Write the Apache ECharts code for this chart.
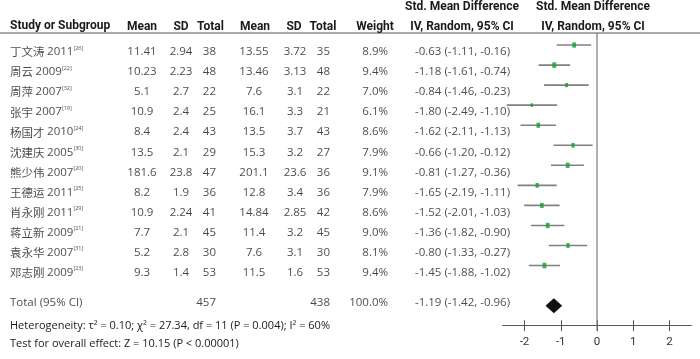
<!DOCTYPE html>
<html><head><meta charset="utf-8">
<script src="https://cdn.jsdelivr.net/npm/echarts@6/dist/echarts.min.js"></script>
<style>html,body{margin:0;padding:0;background:#fff}#c{width:700px;height:359px}</style>
</head><body><div id="c"></div>
<script>
// ---- data ----
const studies = ['丁文涛','周云','周萍','张宇','杨国才','沈建庆','熊少伟','王德运','肖永刚','蒋立新','袁永华','邓志刚'];
const years = [2011,2009,2007,2007,2010,2005,2007,2011,2011,2009,2007,2009];
const refs = [26,22,32,19,24,30,20,25,29,21,31,23];
const expMean = [11.41,10.23,5.1,10.9,8.4,13.5,181.6,8.2,10.9,7.7,5.2,9.3];
const expSD = [2.94,2.23,2.7,2.4,2.4,2.1,23.8,1.9,2.24,2.1,2.8,1.4];
const expTotal = [38,48,22,25,43,29,47,36,41,45,30,53];
const ctlMean = [13.55,13.46,7.6,16.1,13.5,15.3,201.1,12.8,14.84,11.4,7.6,11.5];
const ctlSD = [3.72,3.13,3.1,3.3,3.7,3.2,23.6,3.4,2.85,3.2,3.1,1.6];
const ctlTotal = [35,48,22,21,43,27,36,36,42,45,30,53];
const weights = [8.9,9.4,7.0,6.1,8.6,7.9,9.1,7.9,8.6,9.0,8.1,9.4];
const smd = [-0.63,-1.18,-0.84,-1.80,-1.62,-0.66,-0.81,-1.65,-1.52,-1.36,-0.80,-1.45];
const ciLow = [-1.11,-1.61,-1.46,-2.49,-2.11,-1.20,-1.27,-2.19,-2.01,-1.82,-1.33,-1.88];
const ciHigh = [-0.16,-0.74,-0.23,-1.10,-1.13,-0.12,-0.36,-1.11,-1.03,-0.90,-0.27,-1.02];
const totalExp = 457, totalCtl = 438, totalWeight = 100.0;
const pooled = [-1.19,-1.42,-0.96]; // est, low, high
const axisTicks = [-2,-1,0,1,2];
const nullEffect = 0;
const headerCols = ['Mean','SD','Total','Mean','SD','Total'];
const heteroText = 'Heterogeneity: τ² = 0.10; χ² = 27.34, df = 11 (P = 0.004); I² = 60%';
const overallText = 'Test for overall effect: Z = 10.15 (P < 0.00001)';

// ---- layout ----
const W = 700, H = 359;
const ROW0 = 52, ROWH = 20.05;     // table text rows
const BODY = "'Open Sans', 'Liberation Sans', sans-serif";
const CJK = "'Noto Sans CJK SC', sans-serif";
const HEAD = "'Liberation Sans Narrow', 'Arial Narrow', 'Roboto', sans-serif";
const FS = 11.5;
const TXT = '#1a1a1a';
const TOTAL_ROW = 12.5;
const Y_MIN = -0.6, Y_MAX = 14;
const PLOT = { left: 502.75, right: 8.75, top: 33, bottom: 33.3 };

const fmt2 = v => v.toFixed(2);
const ciText = (e,l,h) => `${fmt2(e)} (${fmt2(l)}, ${fmt2(h)})`;

function textSeries(name, x, align, values, rich) {
  return {
    type: 'scatter', name, xAxisIndex: 0, yAxisIndex: 0, symbolSize: 0, silent: true,
    data: values.map((v, i) => ({ value: [x, v.row != null ? v.row : i], txt: v.t != null ? v.t : v })),
    label: {
      show: true, position: [0, 0], align, verticalAlign: 'middle',
      fontFamily: BODY, fontSize: FS, color: TXT,
      formatter: p => p.data.txt, rich: rich || {}
    }
  };
}

const studyLabels = studies.map((s, i) => `{cjk|${s} }{yr|${years[i]}}{sup|[${refs[i]}]}`);
const studyRich = {
  cjk: { fontFamily: CJK, fontSize: 11.5, color: TXT, lineHeight: 14 },
  yr: { fontFamily: BODY, fontSize: FS, color: TXT, lineHeight: 14 },
  sup: { fontFamily: BODY, fontSize: 5.5, color: TXT, verticalAlign: 'top', lineHeight: 14, padding: [0,0,6,0] }
};

const series = [
  textSeries('study', 10, 'left', studyLabels, studyRich),
  textSeries('expMean', 142, 'center', expMean.map(String)),
  textSeries('expSD', 181, 'center', expSD.map(String)),
  textSeries('expTotal', 216, 'right', expTotal.map(String).concat([{ t: String(totalExp), row: TOTAL_ROW }])),
  textSeries('ctlMean', 254, 'center', ctlMean.map(String)),
  textSeries('ctlSD', 295, 'center', ctlSD.map(String)),
  textSeries('ctlTotal', 330, 'right', ctlTotal.map(String).concat([{ t: String(totalCtl), row: TOTAL_ROW }])),
  textSeries('weight', 388, 'right', weights.map(w => w.toFixed(1) + '%').concat([{ t: totalWeight.toFixed(1) + '%', row: TOTAL_ROW }])),
  textSeries('smdText', 415, 'left', smd.map((e, i) => ciText(e, ciLow[i], ciHigh[i])).concat([{ t: ciText(pooled[0], pooled[1], pooled[2]), row: TOTAL_ROW }])),
  textSeries('totalLabel', 10, 'left', [{ t: 'Total (95% CI)', row: TOTAL_ROW }]),
  // null-effect line
  {
    type: 'custom', xAxisIndex: 1, yAxisIndex: 1, silent: true,
    data: [[nullEffect, Y_MIN, Y_MAX]],
    renderItem: (params, api) => {
      const a = api.coord([api.value(0), api.value(1)]);
      const b = api.coord([api.value(0), api.value(2)]);
      return { type: 'line', shape: { x1: a[0], y1: a[1], x2: b[0], y2: b[1] + 5 }, style: { stroke: '#7a7a7a', lineWidth: 1.2 } };
    },
    z: 2
  },
  // CI lines
  {
    type: 'custom', xAxisIndex: 1, yAxisIndex: 1, silent: true,
    data: ciLow.map((l, i) => [l, ciHigh[i], i]),
    renderItem: (params, api) => {
      const a = api.coord([api.value(0), api.value(2)]);
      const b = api.coord([api.value(1), api.value(2)]);
      return { type: 'line', shape: { x1: a[0], y1: a[1], x2: b[0], y2: b[1] }, style: { stroke: '#808080', lineWidth: 1.6 } };
    },
    z: 3
  },
  // point estimates
  {
    type: 'scatter', xAxisIndex: 1, yAxisIndex: 1, silent: true, symbol: 'rect',
    data: smd.map((v, i) => [v, i, weights[i]]),
    symbolSize: v => [v[2] * 0.42, v[2] * 0.6],
    itemStyle: { color: '#14a032' }, z: 4
  },
  // pooled diamond
  {
    type: 'custom', xAxisIndex: 1, yAxisIndex: 1, silent: true,
    data: [[pooled[0], pooled[1], pooled[2], 13]],
    renderItem: (params, api) => {
      const y = api.value(3);
      const c = api.coord([api.value(0), y]);
      const l = api.coord([api.value(1), y]);
      const r = api.coord([api.value(2), y]);
      const h = 7.5;
      return { type: 'polygon', shape: { points: [[l[0], c[1]], [c[0], c[1] - h], [r[0], c[1]], [c[0], c[1] + h]] }, style: { fill: '#111' } };
    },
    z: 5
  }
];

const chart = echarts.init(document.getElementById('c'), null, { renderer: 'canvas' });
chart.setOption({
  animation: false,
  tooltip: { show: false },
  grid: [
    { left: 0, right: 0, top: 0, bottom: 0 },
    { left: PLOT.left, right: PLOT.right, top: PLOT.top, bottom: PLOT.bottom },
    { left: PLOT.left, right: PLOT.right, top: PLOT.top, bottom: PLOT.bottom + 5.5 }
  ],
  xAxis: [
    { gridIndex: 0, type: 'value', min: 0, max: W, show: false },
    {
      gridIndex: 1, type: 'value', min: -2.6, max: 2.6,
      axisLine: { show: true, onZero: false, lineStyle: { color: '#555', width: 1 } },
      axisTick: { show: false },
      axisLabel: { show: true, customValues: axisTicks, margin: 10, fontFamily: HEAD, fontSize: 11.5, color: '#333' },
      splitLine: { show: false }
    },
    {
      gridIndex: 2, type: 'value', min: -2.6, max: 2.6,
      axisLine: { show: false, onZero: false },
      axisTick: { show: true, length: 11, customValues: axisTicks, lineStyle: { color: '#555' } },
      axisLabel: { show: false }, splitLine: { show: false }
    }
  ],
  yAxis: [
    { gridIndex: 0, type: 'value', inverse: true, min: -ROW0 / ROWH, max: (H - ROW0) / ROWH, show: false },
    { gridIndex: 1, type: 'value', inverse: true, min: Y_MIN, max: Y_MAX, show: false },
    { gridIndex: 2, type: 'value', inverse: true, min: Y_MIN, max: Y_MAX, show: false }
  ],
  graphic: [
    { type: 'line', shape: { x1: 0, y1: 33, x2: W, y2: 33 }, style: { stroke: '#555', lineWidth: 1.2 } },
    { type: 'text', left: 10, top: 20, style: { text: 'Study or Subgroup', font: `bold 12px ${HEAD}`, fill: TXT } },
    ...headerCols.map((t, i) => ({ type: 'text', x: [142, 181, 210.5, 255, 294, 323][i], y: 27, style: { text: t, font: `bold 12px ${HEAD}`, fill: TXT, align: 'center', verticalAlign: 'middle' } })),
    { type: 'text', x: 375, y: 27, style: { text: 'Weight', font: `bold 12px ${HEAD}`, fill: TXT, align: 'center', verticalAlign: 'middle' } },
    { type: 'text', x: 462, y: 7, style: { text: 'Std. Mean Difference', font: `bold 12px ${HEAD}`, fill: TXT, align: 'center', verticalAlign: 'middle' } },
    { type: 'text', x: 462, y: 27, style: { text: 'IV, Random, 95% CI', font: `bold 12px ${HEAD}`, fill: TXT, align: 'center', verticalAlign: 'middle' } },
    { type: 'text', x: 593, y: 7, style: { text: 'Std. Mean Difference', font: `bold 12px ${HEAD}`, fill: TXT, align: 'center', verticalAlign: 'middle' } },
    { type: 'text', x: 593, y: 27, style: { text: 'IV, Random, 95% CI', font: `bold 12px ${HEAD}`, fill: TXT, align: 'center', verticalAlign: 'middle' } },
    { type: 'text', x: 10, y: 326, style: { text: heteroText, font: `11px ${BODY}`, fill: TXT, align: 'left', verticalAlign: 'middle' } },
    { type: 'text', x: 10, y: 344, style: { text: overallText, font: `11px ${BODY}`, fill: TXT, align: 'left', verticalAlign: 'middle' } }
  ],
  series
});
</script></body></html>
